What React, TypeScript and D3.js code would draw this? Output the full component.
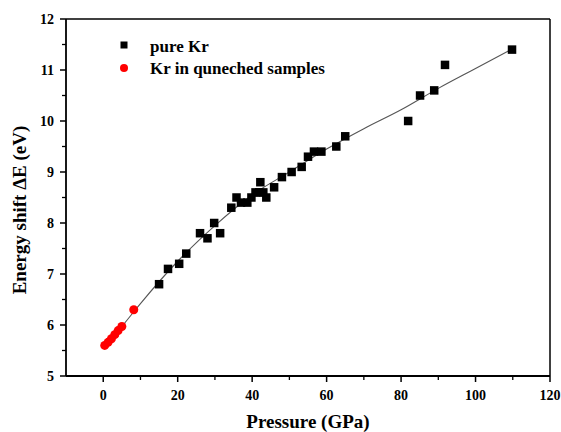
import React from "react";
import * as d3 from "d3";

const pureP = [15, 17.4, 20.4, 22.3, 26, 28, 29.8, 31.4, 34.4, 35.8, 37, 38.7, 39.8, 40.9, 41.9, 42.2, 43, 43.8, 45.9, 48, 50.6, 53.3, 55, 56.6, 58.6, 62.6, 65, 81.9, 85.1, 88.9, 91.8, 109.8];
const pureE = [6.8, 7.1, 7.2, 7.4, 7.8, 7.7, 8.0, 7.8, 8.3, 8.5, 8.4, 8.4, 8.5, 8.6, 8.6, 8.8, 8.6, 8.5, 8.7, 8.9, 9.0, 9.1, 9.3, 9.4, 9.4, 9.5, 9.7, 10.0, 10.5, 10.6, 11.1, 11.4];
const quenchP = [0.4, 1.3, 2.2, 3.1, 4.0, 5.0, 8.2];
const quenchE = [5.6, 5.66, 5.73, 5.81, 5.89, 5.97, 6.3];
const fitP = [0.4, 5, 10, 20, 30, 40, 50, 60, 70, 80, 90, 100, 110];
const fitE = [5.58, 5.97, 6.42, 7.25, 7.95, 8.55, 9.0, 9.45, 9.85, 10.22, 10.64, 11.03, 11.42];
const xTicks = [0, 20, 40, 60, 80, 100, 120];
const yTicks = [5, 6, 7, 8, 9, 10, 11, 12];
const legendLabels = ["pure Kr", "Kr in quneched samples"];

const W = 561, H = 432;
const L = 66, R = 550, T = 19, B = 376;
const FONT = "Liberation Serif, Times New Roman, Times, serif";
const ts = { fontFamily: FONT, fontWeight: 700 } as React.CSSProperties;

export default function App() {
  const x = d3.scaleLinear().domain([-10, 120]).range([L, R]);
  const y = d3.scaleLinear().domain([5, 12]).range([B, T]);
  const line = d3.line<number>().x((_, i) => x(fitP[i])).y((d) => y(d)).curve(d3.curveMonotoneX);
  const xMinor = d3.range(-10, 121, 10).filter((v) => v % 20 !== 0 && v > -10);
  const yMinor = d3.range(5.5, 12, 1);
  const sq = 8.5;
  return (
    <svg width={W} height={H} style={{ position: "absolute", left: 0, top: 0, background: "#fff" }}>
      <rect x={0} y={0} width={W} height={H} fill="#fff" />
      <path d={line(fitE) || ""} fill="none" stroke="#555" strokeWidth={1.1} />
      {pureP.map((p, i) => (
        <rect key={"p" + i} x={x(p) - sq / 2} y={y(pureE[i]) - sq / 2} width={sq} height={sq} fill="#000" />
      ))}
      {quenchP.map((p, i) => (
        <circle key={"q" + i} cx={x(p)} cy={y(quenchE[i])} r={4.5} fill="#ff0000" />
      ))}
      {/* frame */}
      <line x1={L} y1={T} x2={R} y2={T} stroke="#000" strokeWidth={1.5} />
      <line x1={R} y1={T} x2={R} y2={B} stroke="#000" strokeWidth={1.5} />
      <line x1={L} y1={B} x2={R} y2={B} stroke="#000" strokeWidth={1.8} />
      <line x1={L} y1={T} x2={L} y2={B} stroke="#000" strokeWidth={1.8} />
      {xTicks.map((v) => (
        <g key={"xt" + v}>
          <line x1={x(v)} x2={x(v)} y1={B} y2={B + 6} stroke="#000" strokeWidth={1.5} />
          <text x={x(v)} y={B + 24} textAnchor="middle" fontSize={14} style={ts}>{v}</text>
        </g>
      ))}
      {xMinor.map((v) => (
        <line key={"xm" + v} x1={x(v)} x2={x(v)} y1={B} y2={B + 4} stroke="#000" strokeWidth={1.3} />
      ))}
      {yTicks.map((v) => (
        <g key={"yt" + v}>
          <line x1={L - 6} x2={L} y1={y(v)} y2={y(v)} stroke="#000" strokeWidth={1.5} />
          <text x={L - 12} y={y(v) + 5} textAnchor="end" fontSize={14} style={ts}>{v}</text>
        </g>
      ))}
      {yMinor.map((v) => (
        <line key={"ym" + v} x1={L - 4} x2={L} y1={y(v)} y2={y(v)} stroke="#000" strokeWidth={1.3} />
      ))}
      <text x={308} y={428} textAnchor="middle" fontSize={19} style={ts}>Pressure (GPa)</text>
      <text transform={`translate(26, 210) rotate(-90)`} textAnchor="middle" fontSize={19} style={ts}>Energy shift ΔE (eV)</text>
      {/* legend */}
      <rect x={124 - 3.5} y={45 - 3.5} width={7} height={7} fill="#000" />
      <text x={150} y={52} fontSize={17} style={ts}>{legendLabels[0]}</text>
      <circle cx={124} cy={68} r={4} fill="#ff0000" />
      <text x={150} y={74} fontSize={17} style={ts}>{legendLabels[1]}</text>
    </svg>
  );
}
